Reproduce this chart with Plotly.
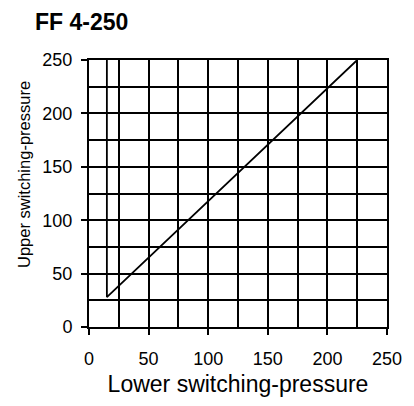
import plotly.graph_objects as go

lower_pressure = [15, 15, 225]
upper_pressure = [250, 28, 250]
tick_values = [0, 50, 100, 150, 200, 250]
tick_labels = ["0", "50", "100", "150", "200", "250"]

FONT = "Liberation Sans, Arial, sans-serif"

# page body has an 8px margin; compensate so the plot lands where the reference has it
W, H = 406, 398
ML, MR, MT, MB = 81, 27, 52, 79
PW, PH = W - ML - MR, H - MT - MB

fig = go.Figure()
fig.add_trace(go.Scatter(x=lower_pressure, y=upper_pressure, mode="lines",
                         line=dict(color="black", width=1.8), showlegend=False,
                         hoverinfo="skip"))

axis_common = dict(
    range=[0, 250], tickvals=tick_values, ticktext=tick_labels,
    showgrid=True, gridcolor="black", gridwidth=1.5,
    minor=dict(dtick=25, showgrid=True, gridcolor="black", gridwidth=1.5, ticks=""),
    showline=True, linecolor="black", linewidth=2, mirror=True,
    ticks="outside", ticklen=6, tickwidth=1.5, tickcolor="black",
    zeroline=False, tickfont=dict(family=FONT, size=18, color="black"),
    fixedrange=True, automargin=False,
)

fig.update_xaxes(**axis_common, ticklabelstandoff=8,
                 title=dict(text="Lower switching-pressure",
                            font=dict(family=FONT, size=23, color="black"), standoff=8))
fig.update_yaxes(**axis_common, ticklabelstandoff=5)

# y-axis title placed as annotation (reference has it off-centre, shifted upward)
fig.add_annotation(text="Upper switching-pressure", textangle=-90,
                   xref="paper", yref="paper",
                   x=(15.5 - ML) / PW, y=(319 - 262) / PH,
                   xanchor="center", yanchor="bottom", showarrow=False,
                   font=dict(family=FONT, size=16.5, color="black"))

fig.update_layout(
    width=W, height=H,
    margin=dict(l=ML, r=MR, t=MT, b=MB),
    paper_bgcolor="white", plot_bgcolor="white",
    title=dict(text="<b>FF 4-250</b>", x=27/W, xanchor="left", xref="container",
               y=1 - 13.5/H, yanchor="middle", yref="container",
               font=dict(family=FONT, size=23, color="black")),
)

fig.write_html("out.html")
